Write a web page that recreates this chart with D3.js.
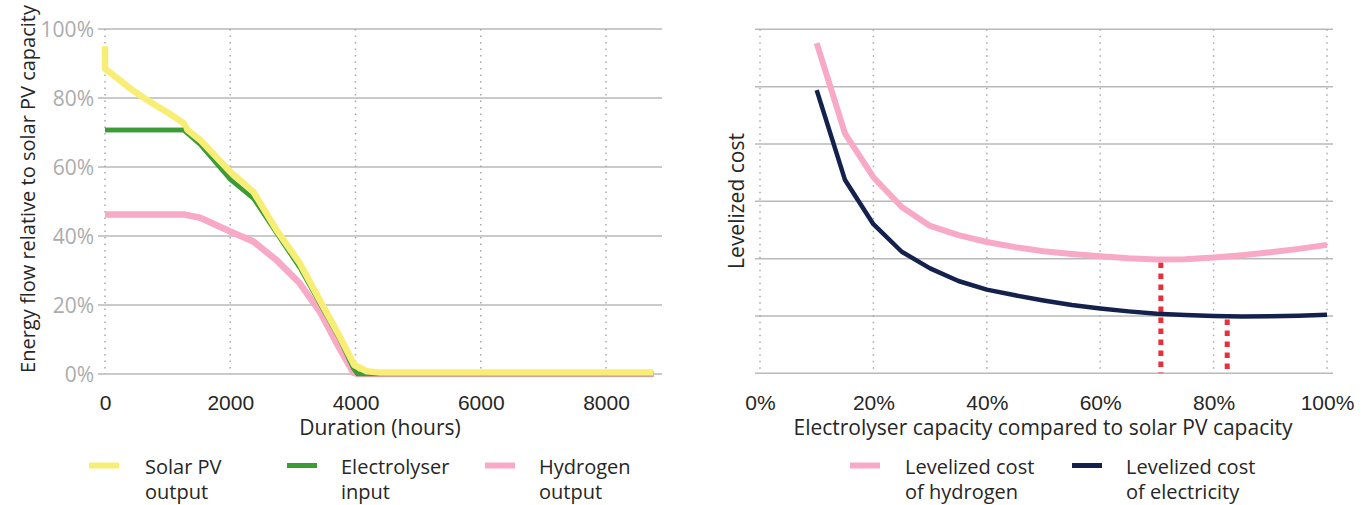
<!DOCTYPE html>
<html>
<head>
<meta charset="utf-8">
<script src="https://cdn.jsdelivr.net/npm/d3@7"></script>
<style>
  html, body { margin: 0; padding: 0; background: #fff; }
  svg { display: block; font-family: "Open Sans", "Noto Sans", sans-serif; }
</style>
</head>
<body>
<svg id="chart" width="1368" height="505"></svg>
<script>
// ---------- Left chart data (duration curve) ----------
const durationTicks = [0, 2000, 4000, 6000, 8000];
const shareTicks = [0, 20, 40, 60, 80, 100];

const solarHours  = [0, 0, 200, 400, 600, 800, 1000, 1250, 1320, 1520, 2000, 2370, 2740, 3110, 3430, 3750, 3980, 4180, 4400, 8760];
const solarValues = [95, 88.5, 85.7, 82.8, 80.3, 78, 75.8, 72.8, 70.7, 67.8, 58.6, 52.8, 41.7, 32.1, 21.4, 10.8, 2.6, 0.8, 0.4, 0.4];

const electroHours  = [0, 1255, 1520, 2000, 2370, 2740, 3110, 3430, 3750, 3965, 4030, 8760];
const electroValues = [70.7, 70.7, 66.5, 56.4, 50.9, 40.8, 30.8, 20.5, 10.0, 1.6, 0, 0];

const hydrogenHours  = [0, 1275, 1520, 2000, 2370, 2740, 3110, 3430, 3700, 3965, 4030, 8760];
const hydrogenValues = [46.2, 46.2, 45.3, 41.3, 38.4, 33.0, 26.3, 18.1, 8.9, 0.4, 0, 0];

// ---------- Right chart data (levelized cost) ----------
const capacityTicks = [0, 20, 40, 60, 80, 100];
const capacityTickLabels = ["0%", "20%", "40%", "60%", "80%", "100%"];
const costGrid = [0, 1, 2, 3, 4, 5, 6];

const capacity = [10, 15, 20, 25, 30, 35, 40, 45, 50, 55, 60, 65, 70, 75, 80, 85, 90, 95, 100];
const lcoh = [5.76, 4.18, 3.42, 2.90, 2.57, 2.41, 2.29, 2.20, 2.13, 2.08, 2.04, 2.005, 1.985, 1.99, 2.02, 2.06, 2.11, 2.17, 2.24];
const lcoe = [4.94, 3.37, 2.60, 2.12, 1.83, 1.61, 1.46, 1.36, 1.27, 1.19, 1.13, 1.08, 1.04, 1.015, 1.0, 0.99, 0.995, 1.005, 1.02];

const optimumCapacity = [70.7, 82.4];
const optimumCost = [1.985, 0.99];

// ---------- Styles ----------
const C = {
  solar: "#f8ee76",
  electro: "#3b9b35",
  hydrogen: "#f8a9c6",
  lcoe: "#14214d",
  red: "#e8303a",
  grid: "#b9b9b9",
  dot: "#a9a9a9",
  tickY: "#acacac",
  text: "#262626"
};
const FS = 21;
const FS_LEGEND = 20;

const svg = d3.select("#chart");

// ================= LEFT CHART =================
const xL = d3.scaleLinear().domain([0, 8000]).range([105, 606]);
const yL = d3.scaleLinear().domain([0, 100]).range([374, 29]);
const gL = svg.append("g");

gL.selectAll("line.h").data(shareTicks).join("line")
  .attr("x1", 98).attr("x2", 662)
  .attr("y1", d => yL(d)).attr("y2", d => yL(d))
  .attr("stroke", C.grid).attr("stroke-width", 1.5);

gL.selectAll("line.v").data(durationTicks).join("line")
  .attr("x1", d => xL(d)).attr("x2", d => xL(d))
  .attr("y1", yL(100)).attr("y2", yL(0))
  .attr("stroke", C.dot).attr("stroke-width", 1.5)
  .attr("stroke-dasharray", "1.5,5");

gL.selectAll("text.yt").data(shareTicks).join("text")
  .attr("x", 94).attr("y", d => yL(d)).attr("dy", "0.36em")
  .attr("text-anchor", "end").attr("fill", C.tickY)
  .attr("font-size", FS).text(d => d + "%");

const xAxisL = d3.axisBottom(xL).tickValues(durationTicks).tickSize(0).tickPadding(0).tickFormat(d3.format("d"));
const gxL = gL.append("g").attr("transform", "translate(0,410)").call(xAxisL);
gxL.select(".domain").remove();
gxL.selectAll("text").attr("font-size", FS).attr("fill", C.text)
  .attr("dy", 0).attr("y", 0).attr("font-family", null);

gL.append("text").attr("x", 380).attr("y", 435).attr("text-anchor", "middle")
  .attr("font-size", FS).attr("fill", C.text).text("Duration (hours)");

gL.append("text").attr("transform", "translate(35,189) rotate(-90)")
  .attr("text-anchor", "middle").attr("font-size", 20).attr("fill", C.text)
  .text("Energy flow relative to solar PV capacity");

const zip = (a, b) => a.map((v, i) => [v, b[i]]);
const lineL = d3.line().x(d => xL(d[0])).y(d => yL(d[1]));

gL.append("path").datum(zip(hydrogenHours, hydrogenValues))
  .attr("d", lineL).attr("fill", "none").attr("stroke", C.hydrogen)
  .attr("stroke-width", 6.5).attr("stroke-linejoin", "round");
gL.append("path").datum(zip(electroHours, electroValues))
  .attr("d", lineL).attr("fill", "none").attr("stroke", C.electro)
  .attr("stroke-width", 4.5).attr("stroke-linejoin", "round");
gL.append("path").datum(zip(solarHours, solarValues))
  .attr("d", lineL).attr("fill", "none").attr("stroke", C.solar)
  .attr("stroke-width", 6.5).attr("stroke-linejoin", "round");
gL.append("path").datum(zip(electroHours.slice(0, 2), electroValues.slice(0, 2)))
  .attr("d", lineL).attr("fill", "none").attr("stroke", C.electro)
  .attr("stroke-width", 4.5);

// ================= RIGHT CHART =================
const xR = d3.scaleLinear().domain([0, 100]).range([760, 1327]);
const yR = d3.scaleLinear().domain([0, 6]).range([373.3, 29.3]);
const gR = svg.append("g");

gR.selectAll("line.h").data(costGrid).join("line")
  .attr("x1", 755).attr("x2", 1333)
  .attr("y1", d => yR(d)).attr("y2", d => yR(d))
  .attr("stroke", C.grid).attr("stroke-width", 1.5);

gR.selectAll("line.v").data(capacityTicks).join("line")
  .attr("x1", d => xR(d)).attr("x2", d => xR(d))
  .attr("y1", yR(6)).attr("y2", yR(0))
  .attr("stroke", C.dot).attr("stroke-width", 1.5)
  .attr("stroke-dasharray", "1.5,5");

const xAxisR = d3.axisBottom(xR).tickValues(capacityTicks).tickSize(0).tickPadding(0)
  .tickFormat((d, i) => capacityTickLabels[i]);
const gxR = gR.append("g").attr("transform", "translate(0,410)").call(xAxisR);
gxR.select(".domain").remove();
gxR.selectAll("text").attr("font-size", FS).attr("fill", C.text)
  .attr("dy", 0).attr("y", 0).attr("font-family", null);

gR.append("text").attr("x", 1043).attr("y", 435).attr("text-anchor", "middle")
  .attr("font-size", FS).attr("fill", C.text)
  .text("Electrolyser capacity compared to solar PV capacity");

gR.append("text").attr("transform", "translate(744,201) rotate(-90)")
  .attr("text-anchor", "middle").attr("font-size", FS).attr("fill", C.text)
  .text("Levelized cost");

gR.selectAll("line.opt").data(optimumCapacity).join("line")
  .attr("x1", d => xR(d)).attr("x2", d => xR(d))
  .attr("y1", (d, i) => yR(optimumCost[i]) + 3).attr("y2", yR(0))
  .attr("stroke", C.red).attr("stroke-width", 5)
  .attr("stroke-dasharray", "5.5,5.5");

const lineR = d3.line().x(d => xR(d[0])).y(d => yR(d[1]));
gR.append("path").datum(zip(capacity, lcoh))
  .attr("d", lineR).attr("fill", "none").attr("stroke", C.hydrogen)
  .attr("stroke-width", 6).attr("stroke-linejoin", "round");
gR.append("path").datum(zip(capacity, lcoe))
  .attr("d", lineR).attr("fill", "none").attr("stroke", C.lcoe)
  .attr("stroke-width", 4.5).attr("stroke-linejoin", "round");

// ================= LEGENDS =================
const legendItems = [
  { x: 89, w: 30, color: C.solar, sw: 6, tx: 145, lines: ["Solar PV", "output"] },
  { x: 287, w: 30, color: C.electro, sw: 5, tx: 341, lines: ["Electrolyser", "input"] },
  { x: 485, w: 30, color: C.hydrogen, sw: 6, tx: 539, lines: ["Hydrogen", "output"] },
  { x: 850, w: 30, color: C.hydrogen, sw: 6, tx: 905, lines: ["Levelized cost", "of hydrogen"] },
  { x: 1072, w: 30, color: C.lcoe, sw: 5, tx: 1126, lines: ["Levelized cost", "of electricity"] }
];
const lg = svg.append("g").selectAll("g").data(legendItems).join("g");
lg.append("line")
  .attr("x1", d => d.x).attr("x2", d => d.x + d.w)
  .attr("y1", 465.5).attr("y2", 465.5)
  .attr("stroke", d => d.color).attr("stroke-width", d => d.sw);
lg.each(function(d) {
  const g = d3.select(this);
  d.lines.forEach((s, i) => {
    g.append("text").attr("font-size", FS_LEGEND).attr("fill", C.text)
      .attr("x", d.tx).attr("y", 474 + i * 25).text(s);
  });
});
</script>
</body>
</html>
